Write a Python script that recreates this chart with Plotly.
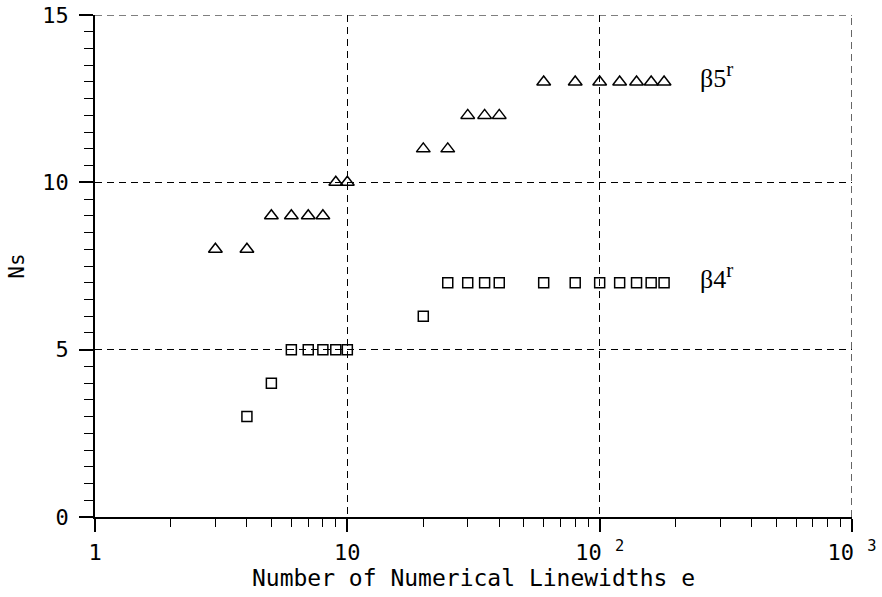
import math
import plotly.graph_objects as go

# beta5r (triangles)
b5_x = [3, 4, 5, 6, 7, 8, 9, 10, 20, 25, 30, 35, 40, 60, 80, 100, 120, 140, 160, 180]
b5_y = [8, 8, 9, 9, 9, 9, 10, 10, 11, 11, 12, 12, 12, 13, 13, 13, 13, 13, 13, 13]
# beta4r (squares)
b4_x = [4, 5, 6, 7, 8, 9, 10, 20, 25, 30, 35, 40, 60, 80, 100, 120, 140, 160, 180]
b4_y = [3, 4, 5, 5, 5, 5, 5, 6, 7, 7, 7, 7, 7, 7, 7, 7, 7, 7, 7]

x_tickvals = [1, 10, 100, 1000]
x_ticktext = ["1", "10", "10 <sup>2</sup>", "10 <sup>3</sup>"]
y_tickvals = [0, 5, 10, 15]
y_ticktext = ["0", "5", "10", "15"]

fig = go.Figure()
fig.add_trace(go.Scatter(
    x=b5_x, y=b5_y, mode="markers",
    marker=dict(symbol="triangle-up-open", size=12, color="black", line=dict(width=1.5, color="black")),
    showlegend=False, cliponaxis=False))
fig.add_trace(go.Scatter(
    x=b4_x, y=b4_y, mode="markers",
    marker=dict(symbol="square-open", size=10, color="black", line=dict(width=1.5, color="black")),
    showlegend=False, cliponaxis=False))

serif = dict(family="Liberation Serif", size=26, color="black")
sup_r = '<sup><span style="font-size:21px">r</span></sup>'
fig.add_annotation(x=math.log10(b5_x[-1] * 1.36), y=b5_y[-1] + 0.2, xref="x", yref="y",
                   text="β5" + sup_r, showarrow=False, xanchor="left", yanchor="middle",
                   font=serif)
fig.add_annotation(x=math.log10(b4_x[-1] * 1.36), y=b4_y[-1] + 0.2, xref="x", yref="y",
                   text="β4" + sup_r, showarrow=False, xanchor="left", yanchor="middle",
                   font=serif)

# dashed frame on top and right (grid at the range edges)
dash_line = dict(color="black", width=1.2, dash="7px,5px")
fig.add_shape(type="line", xref="paper", yref="y", x0=0, x1=1,
              y0=y_tickvals[-1], y1=y_tickvals[-1], line=dash_line, layer="below")
fig.add_shape(type="line", xref="x", yref="paper",
              x0=x_tickvals[-1], x1=x_tickvals[-1], y0=0, y1=1,
              line=dash_line, layer="below")

mono = dict(family="DejaVu Sans Mono", size=22, color="black")

fig.update_layout(
    width=882, height=597,
    margin=dict(l=95, r=30, t=15, b=80),
    paper_bgcolor="white", plot_bgcolor="white",
    font=mono,
    hovermode=False,
    xaxis=dict(
        type="log", range=[0, 3], automargin=False,
        tickvals=x_tickvals, ticktext=x_ticktext,
        ticks="outside", ticklen=13, tickwidth=1.5, tickcolor="black",
        showline=True, linecolor="black", linewidth=1.5,
        showgrid=True, gridcolor="black", gridwidth=1.2, griddash="7px,5px",
        zeroline=False,
        minor=dict(ticks="outside", ticklen=8, tickwidth=1.3, tickcolor="black",
                   dtick="D1", showgrid=False),
        tickfont=mono,
        ticklabelstandoff=2,
        ticklabeloverflow="allow",
        title=dict(text="Number of Numerical Linewidths e",
                   font=dict(family="DejaVu Sans Mono", size=23, color="black"), standoff=0),
    ),
    yaxis=dict(
        range=[0, 15], automargin=False,
        tickvals=y_tickvals, ticktext=y_ticktext,
        ticks="outside", ticklen=14, tickwidth=1.5, tickcolor="black",
        showline=True, linecolor="black", linewidth=1.5,
        showgrid=True, gridcolor="black", gridwidth=1.2, griddash="7px,5px",
        zeroline=False,
        minor=dict(ticks="outside", ticklen=9, tickwidth=1.3, tickcolor="black",
                   dtick=0.5, showgrid=False),
        tickfont=mono,
        ticklabelstandoff=6,
        ticklabeloverflow="allow",
        title=dict(text="Ns", font=dict(family="DejaVu Sans Mono", size=21, color="black"), standoff=12),
    ),
)

# remove the default page margin so the 882x597 figure fills the window exactly
fig.write_html("out.html", config={"displayModeBar": False},
               post_script="document.body.style.margin='0';")
